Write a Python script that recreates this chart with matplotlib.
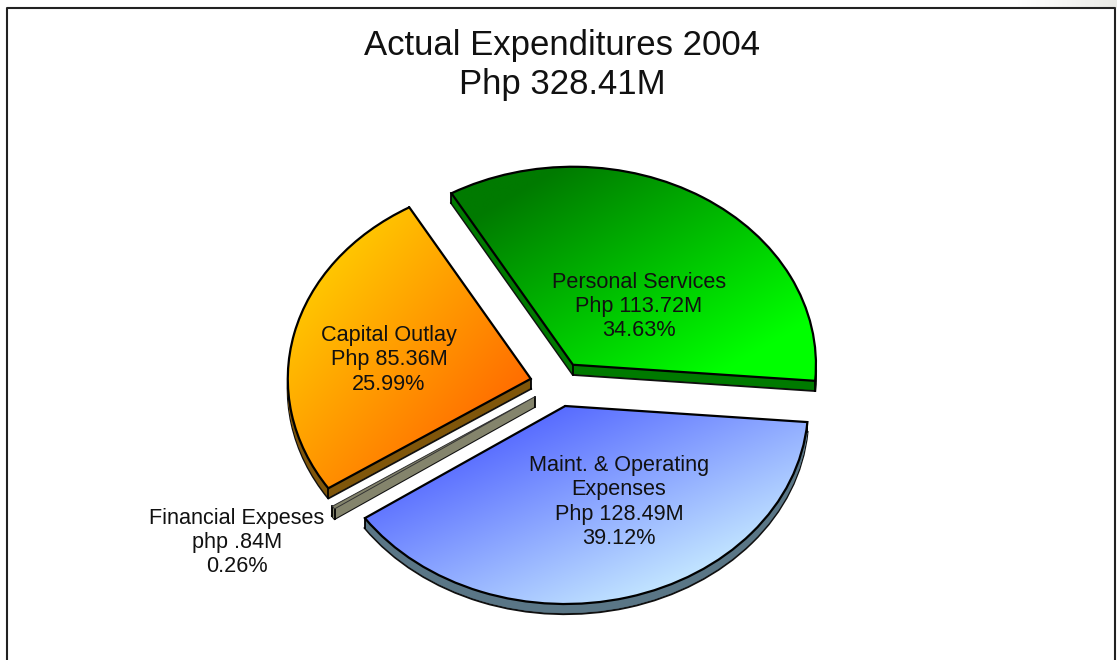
import numpy as np
import matplotlib
matplotlib.use("Agg")
import matplotlib.pyplot as plt
from matplotlib.lines import Line2D

W, H = 1117, 660
plt.rcParams['font.family'] = ['Liberation Sans', 'DejaVu Sans']

categories = ["Personal Services", "Maint. & Operating Expenses", "Financial Expeses", "Capital Outlay"]
values = [113.72, 128.49, 0.84, 85.36]
labels = ["Personal Services\nPhp 113.72M\n34.63%",
          "Maint. & Operating\nExpenses\nPhp 128.49M\n39.12%",
          "Financial Expeses\nphp .84M\n0.26%",
          "Capital Outlay\nPhp 85.36M\n25.99%"]
title = "Actual Expenditures 2004\nPhp 328.41M"

grad_start = ["#007A00", "#4A5CFF", "#84846C", "#FFCC00"]
grad_end = ["#00FF00", "#CCF0FF", "#84846C", "#FF6600"]
side_colors = ["#007A00", "#5A7686", "#84846C", "#80560A"]
label_px = [(639, 306.5), (619, 502), (237, 542.5), (389, 360)]

CX, CY, RX, RY = 558, 384, 243, 198
DEPTH_PX = 10
EXPLODE = [0.115] * 4

fig = plt.figure(figsize=(W / 100, H / 100), dpi=100, facecolor="white")
ax = fig.add_axes([0, 0, 1, 1])
xlim = ((0 - CX) / RX, (W - CX) / RX)
ylim = ((CY - H) / RY, CY / RY)


def rgb(c):
    return np.array(matplotlib.colors.to_rgb(c))


# extruded side: stacked copies of the same pie, bottom one first
step = 1 / RY
for k in range(DEPTH_PX, 0, -1):
    w, _ = ax.pie(values, explode=EXPLODE, colors=side_colors, startangle=120,
                  counterclock=False, radius=1, center=(0, -k * step),
                  wedgeprops=dict(linewidth=1.6 if k == DEPTH_PX else 0.3,
                                  edgecolor="#101010" if k == DEPTH_PX else None))
    if k != DEPTH_PX:
        for wi, c in zip(w, side_colors):
            wi.set_edgecolor(c)
        w[2].set_linewidth(1.3)

# top faces
top, _ = ax.pie(values, explode=EXPLODE, colors=["none"] * 4, startangle=120,
                counterclock=False, radius=1, center=(0, 0),
                wedgeprops=dict(linewidth=1.6, edgecolor="black", zorder=4))
top[2].set_linewidth(0.7)
top[2].set_edgecolor("#333333")
top[2].set_facecolor(side_colors[2])

# vertical edges of the extrusion, hidden behind the top faces
for wi in top:
    cx, cy = wi.center
    pts = [(cx, cy)]
    for t in (wi.theta1, wi.theta2):
        pts.append((cx + np.cos(np.radians(t)), cy + np.sin(np.radians(t))))
    for px, py in pts:
        ax.plot([px, px], [py, py - DEPTH_PX * step], color="black", lw=1.3, zorder=1.5)

# diagonal gradient top faces
for wi, c0, c1 in zip(top, grad_start, grad_end):
    if c0 == c1:
        continue
    bb = wi.get_path().transformed(wi.get_patch_transform()).get_extents()
    n = 200
    u, v = np.meshgrid(np.linspace(0, 1, n), np.linspace(0, 1, n))
    t = np.clip((u + v - 0.3) / 1.4, 0, 1)[..., None]
    img = rgb(c0) * (1 - t) + rgb(c1) * t
    im = ax.imshow(img, extent=(bb.x0, bb.x1, bb.y0, bb.y1), origin="upper",
                   aspect="auto", zorder=2, interpolation="bilinear")
    im.set_clip_path(wi)

ax.set_xlim(*xlim)
ax.set_ylim(*ylim)
ax.set_aspect("auto")
ax.axis("off")

for text, (px, py) in zip(labels, label_px):
    fig.text(px / W, 1 - py / H, text, ha="center", va="center", fontsize=15.6,
             color="#111111", linespacing=1.2, zorder=6)

fig.text(562 / W, 1 - 65 / H, title, ha="center", va="center", fontsize=25,
         color="#111111", linespacing=1.22)

# light corner outside the frame
u = np.linspace(0, 1, 100)[None, :, None]
corner = (1 - u) * rgb("#FFFFFF") + u * rgb("#E9E9E5")
fig.figimage(np.clip(corner, 0, 1).repeat(8, axis=0), xo=1017, yo=H - 8, resize=False)

# chart frame, open at the bottom edge
fig.add_artist(Line2D([7 / W, 7 / W, 1115 / W, 1115 / W],
                      [0, 1 - 8 / H, 1 - 8 / H, 0],
                      color="#222222", lw=1.5, transform=fig.transFigure))

fig.savefig("out.png", dpi=100)
